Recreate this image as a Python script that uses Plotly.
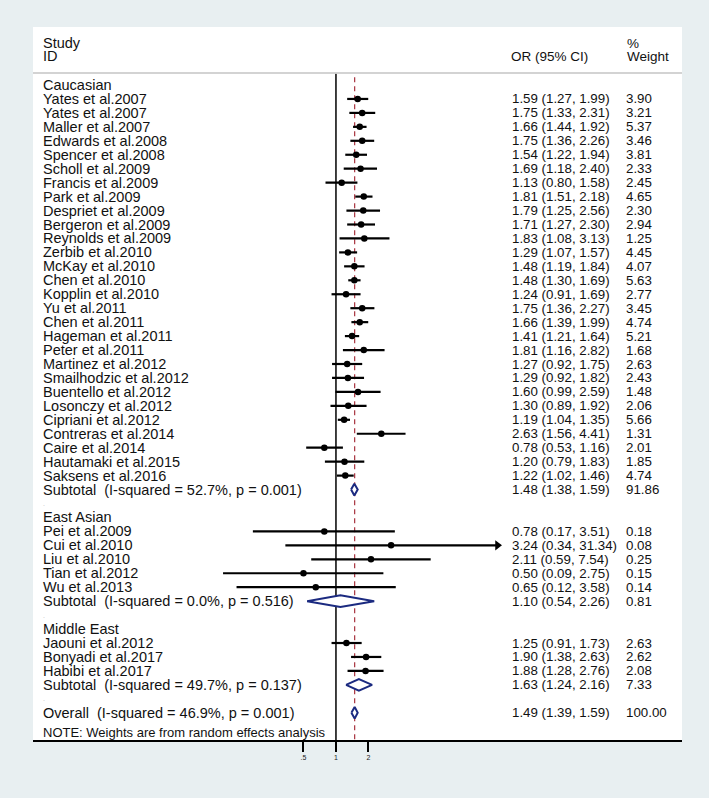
import plotly.graph_objects as go

# ---------------- data ----------------
group_names = ["Caucasian", "East Asian", "Middle East"]

cau_names = ["Yates et al.2007", "Yates et al.2007", "Maller et al.2007", "Edwards et al.2008",
             "Spencer et al.2008", "Scholl et al.2009", "Francis et al.2009", "Park et al.2009",
             "Despriet et al.2009", "Bergeron et al.2009", "Reynolds et al.2009", "Zerbib et al.2010",
             "McKay et al.2010", "Chen et al.2010", "Kopplin et al.2010", "Yu et al.2011",
             "Chen et al.2011", "Hageman et al.2011", "Peter et al.2011", "Martinez et al.2012",
             "Smailhodzic et al.2012", "Buentello et al.2012", "Losonczy et al.2012", "Cipriani et al.2012",
             "Contreras et al.2014", "Caire et al.2014", "Hautamaki et al.2015", "Saksens et al.2016"]
cau_or = [1.59, 1.75, 1.66, 1.75, 1.54, 1.69, 1.13, 1.81, 1.79, 1.71, 1.83, 1.29, 1.48, 1.48,
          1.24, 1.75, 1.66, 1.41, 1.81, 1.27, 1.29, 1.60, 1.30, 1.19, 2.63, 0.78, 1.20, 1.22]
cau_lo = [1.27, 1.33, 1.44, 1.36, 1.22, 1.18, 0.80, 1.51, 1.25, 1.27, 1.08, 1.07, 1.19, 1.30,
          0.91, 1.36, 1.39, 1.21, 1.16, 0.92, 0.92, 0.99, 0.89, 1.04, 1.56, 0.53, 0.79, 1.02]
cau_hi = [1.99, 2.31, 1.92, 2.26, 1.94, 2.40, 1.58, 2.18, 2.56, 2.30, 3.13, 1.57, 1.84, 1.69,
          1.69, 2.27, 1.99, 1.64, 2.82, 1.75, 1.82, 2.59, 1.92, 1.35, 4.41, 1.16, 1.83, 1.46]
cau_w = [3.90, 3.21, 5.37, 3.46, 3.81, 2.33, 2.45, 4.65, 2.30, 2.94, 1.25, 4.45, 4.07, 5.63,
         2.77, 3.45, 4.74, 5.21, 1.68, 2.63, 2.43, 1.48, 2.06, 5.66, 1.31, 2.01, 1.85, 4.74]

ea_names = ["Pei et al.2009", "Cui et al.2010", "Liu et al.2010", "Tian et al.2012", "Wu et al.2013"]
ea_or = [0.78, 3.24, 2.11, 0.50, 0.65]
ea_lo = [0.17, 0.34, 0.59, 0.09, 0.12]
ea_hi = [3.51, 31.34, 7.54, 2.75, 3.58]
ea_w = [0.18, 0.08, 0.25, 0.15, 0.14]

me_names = ["Jaouni et al.2012", "Bonyadi et al.2017", "Habibi et al.2017"]
me_or = [1.25, 1.90, 1.88]
me_lo = [0.91, 1.38, 1.28]
me_hi = [1.73, 2.63, 2.76]
me_w = [2.63, 2.62, 2.08]

sub_or = [1.48, 1.10, 1.63]
sub_lo = [1.38, 0.54, 1.24]
sub_hi = [1.59, 2.26, 2.16]
sub_w = [91.86, 0.81, 7.33]
sub_i2 = ["52.7%", "0.0%", "49.7%"]
sub_p = ["0.001", "0.516", "0.137"]

overall_or = 1.49
overall_lo = 1.39
overall_hi = 1.59
overall_w = 100.00
overall_i2 = "46.9%"
overall_p = "0.001"

tick_vals = [0.5, 1, 2]
tick_text = [".5", "1", "2"]
ci_limit = 31.0  # CIs beyond this get an arrow

# ---------------- build rows ----------------
groups = [
    (cau_names, cau_or, cau_lo, cau_hi, cau_w),
    (ea_names, ea_or, ea_lo, ea_hi, ea_w),
    (me_names, me_or, me_lo, me_hi, me_w),
]

rows = []  # (kind, label, or, lo, hi, w)
for gi, (nm, o, lo, hi, w) in enumerate(groups):
    rows.append(("head", group_names[gi], None, None, None, None))
    for k in range(len(nm)):
        rows.append(("study", nm[k], o[k], lo[k], hi[k], w[k]))
    rows.append(("sub", "Subtotal  (I-squared = %s, p = %s)" % (sub_i2[gi], sub_p[gi]),
                 sub_or[gi], sub_lo[gi], sub_hi[gi], sub_w[gi]))
    rows.append(("blank", ".", None, None, None, None))
rows.append(("sub", "Overall  (I-squared = %s, p = %s)" % (overall_i2, overall_p),
             overall_or, overall_lo, overall_hi, overall_w))

FONT = "Liberation Sans, Arial, sans-serif"
navy = "#1b2a80"
TXT = "#111111"

fig = go.Figure()

ci_x, ci_y, pt_x, pt_y, ar_x, ar_y = [], [], [], [], [], []
annotations = []
diamonds = []


def px2paper(px):
    return (px - 33) / 649.0


for r, (kind, label, o, lo, hi, w) in enumerate(rows):
    if kind == "blank":
        annotations.append(dict(x=px2paper(41), y=r, xref="paper", yref="y", text=".",
                                showarrow=False, xanchor="left", yanchor="middle",
                                font=dict(family=FONT, size=7, color="#c0c0c0")))
        continue
    annotations.append(dict(x=px2paper(41), y=r, xref="paper", yref="y", text=label,
                            showarrow=False, xanchor="left", yanchor="middle",
                            font=dict(family=FONT, size=14.5, color=TXT)))
    if kind == "head":
        continue
    annotations.append(dict(x=px2paper(510), y=r, xref="paper", yref="y",
                            text="%.2f (%.2f, %.2f)" % (o, lo, hi),
                            showarrow=False, xanchor="left", yanchor="middle",
                            font=dict(family=FONT, size=13.3, color=TXT)))
    annotations.append(dict(x=px2paper(624), y=r, xref="paper", yref="y",
                            text="%.2f" % w,
                            showarrow=False, xanchor="left", yanchor="middle",
                            font=dict(family=FONT, size=13.3, color=TXT)))
    if kind == "study":
        ci_x += [lo, hi, None]
        ci_y += [r, r, None]
        pt_x.append(o)
        pt_y.append(r)
        if hi > ci_limit:
            ar_x.append(hi)
            ar_y.append(r)
    else:
        diamonds.append((r, o, lo, hi))

y_bottom = 46.953
y_top = -4.158

# reference lines
fig.add_trace(go.Scatter(x=[1, 1], y=[-0.8, y_bottom], mode="lines",
                         line=dict(color="black", width=1.5), showlegend=False, hoverinfo="skip"))
fig.add_trace(go.Scatter(x=[overall_or, overall_or], y=[-0.55, y_bottom], mode="lines",
                         line=dict(color="#a8323e", width=1.2, dash="5px,4px"),
                         showlegend=False, hoverinfo="skip"))

fig.add_trace(go.Scatter(x=ci_x, y=ci_y, mode="lines", line=dict(color="black", width=2.2),
                         showlegend=False, hoverinfo="skip"))
fig.add_trace(go.Scatter(x=pt_x, y=pt_y, mode="markers",
                         marker=dict(symbol="circle", size=6.5, color="black"),
                         showlegend=False))
fig.add_trace(go.Scatter(x=ar_x, y=ar_y, mode="markers",
                         marker=dict(symbol="triangle-right", size=9, color="black"),
                         showlegend=False, hoverinfo="skip"))

h = 0.42
for (r, o, lo, hi) in diamonds:
    fig.add_trace(go.Scatter(x=[lo, o, hi, o, lo], y=[r, r - h, r, r + h, r],
                             mode="lines", fill="toself", fillcolor="white",
                             line=dict(color=navy, width=2), hoverinfo="skip",
                             showlegend=False))

# header texts
annotations += [
    dict(x=px2paper(41), y=-3.0, xref="paper", yref="y", text="Study", showarrow=False,
         xanchor="left", yanchor="middle", font=dict(family=FONT, size=14.5, color=TXT)),
    dict(x=px2paper(41), y=-2.05, xref="paper", yref="y", text="ID", showarrow=False,
         xanchor="left", yanchor="middle", font=dict(family=FONT, size=14.5, color=TXT)),
    dict(x=px2paper(509), y=-2.05, xref="paper", yref="y", text="OR (95% CI)", showarrow=False,
         xanchor="left", yanchor="middle", font=dict(family=FONT, size=13.5, color=TXT)),
    dict(x=px2paper(625), y=-3.0, xref="paper", yref="y", text="%", showarrow=False,
         xanchor="left", yanchor="middle", font=dict(family=FONT, size=13.5, color=TXT)),
    dict(x=px2paper(625), y=-2.05, xref="paper", yref="y", text="Weight", showarrow=False,
         xanchor="left", yanchor="middle", font=dict(family=FONT, size=13.5, color=TXT)),
    dict(x=px2paper(41), y=46.45, xref="paper", yref="y",
         text="NOTE: Weights are from random effects analysis", showarrow=False,
         xanchor="left", yanchor="middle", font=dict(family=FONT, size=13, color=TXT)),
]

fig.update_layout(
    width=709, height=798,
    margin=dict(l=33, r=27, t=27, b=58),
    paper_bgcolor="#e8eff1",
    plot_bgcolor="white",
    annotations=annotations,
    shapes=[dict(type="line", xref="paper", yref="y", x0=0, x1=1, y0=-0.86, y1=-0.86,
                 line=dict(color="#c4c4c4", width=1.5))],
    xaxis=dict(type="log", range=[-2.806, 3.205], tickvals=tick_vals, ticktext=tick_text,
               ticks="outside", ticklen=10, tickwidth=1.5, tickcolor="black",
               tickfont=dict(family=FONT, size=7, color="#222222"),
               showline=True, linecolor="black", linewidth=1.5,
               showgrid=False, zeroline=False, fixedrange=True),
    yaxis=dict(range=[y_bottom, y_top], visible=False, showgrid=False, zeroline=False,
               fixedrange=True),
)

fig.write_html("out.html",
               config={"displayModeBar": False},
               post_script="document.body.style.margin='0';document.body.style.background='#e8eff1';")
